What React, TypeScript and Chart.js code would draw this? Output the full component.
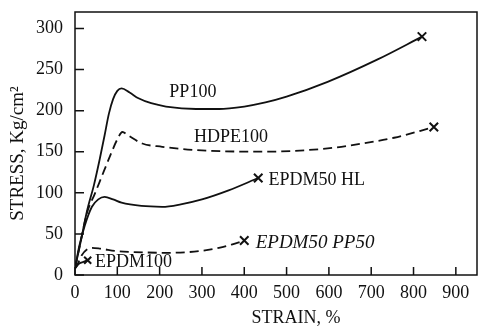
import React, { useEffect, useRef } from 'react';
import { Chart, registerables } from 'chart.js';

Chart.register(...registerables);

// ---- tick labels ----
const xTickValues = [0, 100, 200, 300, 400, 500, 600, 700, 800, 900];
const yTickValues = [0, 50, 100, 150, 200, 250, 300];

// ---- series (strain %, stress Kg/cm2) ----
const pp100Strain = [0, 14, 28, 45, 58, 70, 80, 90, 100, 110, 129, 150, 180, 215, 286, 340, 400, 450, 500, 597, 714, 820];
const pp100Stress = [8, 42, 77, 110, 140, 170, 196, 214, 224, 227, 222, 215, 209, 205, 202, 202, 205, 210, 217, 235, 262, 290];

const hdpe100Strain = [0, 14, 28, 47, 68, 87, 100, 112, 125, 159, 206, 286, 441, 597, 680, 754, 848];
const hdpe100Stress = [8, 42, 75, 99, 126, 150, 165, 174, 170, 160, 156, 152, 150, 154, 160, 167, 180];

const epdmHlStrain = [0, 10, 23, 40, 55, 70, 90, 110, 157, 206, 250, 300, 363, 433];
const epdmHlStress = [8, 35, 60, 83, 92, 95, 92, 88, 84, 83, 86, 92, 103, 118];

const epdmPpStrain = [0, 5, 16, 28, 40, 60, 100, 136, 215, 293, 340, 370, 400];
const epdmPpStress = [8, 12, 24, 31, 33, 32, 29, 28, 27, 29, 33, 37, 42];

const epdm100Strain = [0, 10, 20, 30];
const epdm100Stress = [8, 14, 16, 18];

// ---- curve labels (text, anchor in data units) ----
const labelTexts = ['PP100', 'HDPE100', 'EPDM50 HL', 'EPDM50 PP50', 'EPDM100'];
const labelStrain = [223, 281, 457, 427, 47];
const labelStress = [222, 168, 115, 39, 15];
const labelItalic = [false, false, false, true, false];

const xTitle = 'STRAIN, %';
const yTitle = 'STRESS, Kg/cm²';

const FONT = '"Liberation Serif", "Times New Roman", serif';

const toPoints = (xs: number[], ys: number[]) => xs.map((x, i) => ({ x, y: ys[i] }));

const makeDataset = (label: string, xs: number[], ys: number[], dashed: boolean) => ({
  label,
  data: toPoints(xs, ys),
  borderColor: '#111',
  backgroundColor: '#111',
  borderWidth: 1.8,
  borderDash: dashed ? [9, 5] : [],
  fill: false,
  showLine: true,
  cubicInterpolationMode: 'monotone' as const,
  pointStyle: 'crossRot' as const,
  pointRadius: (ctx: any) => (ctx.dataIndex === xs.length - 1 ? (label === 'EPDM100' ? 5 : 6) : 0),
  pointBorderWidth: 2,
  pointBorderColor: '#111',
  pointHoverRadius: 0,
});

const decorPlugin = {
  id: 'decor',
  afterDraw(chart: any) {
    const { ctx, chartArea: a, scales } = chart;
    ctx.save();
    ctx.strokeStyle = '#111';
    ctx.lineWidth = 1.5;
    ctx.setLineDash([]);
    ctx.strokeRect(a.left, a.top, a.right - a.left, a.bottom - a.top);
    // inward ticks
    ctx.beginPath();
    scales.x.ticks.forEach((t: any) => {
      const px = scales.x.getPixelForValue(t.value);
      ctx.moveTo(px, a.bottom);
      ctx.lineTo(px, a.bottom - 8);
    });
    scales.y.ticks.forEach((t: any) => {
      const py = scales.y.getPixelForValue(t.value);
      ctx.moveTo(a.left, py);
      ctx.lineTo(a.left + 9, py);
    });
    ctx.stroke();
    // curve labels
    ctx.fillStyle = '#111';
    ctx.textBaseline = 'middle';
    ctx.textAlign = 'left';
    labelTexts.forEach((txt, i) => {
      ctx.font = (labelItalic[i] ? 'italic 19px ' : '18px ') + FONT;
      ctx.fillText(txt, scales.x.getPixelForValue(labelStrain[i]), scales.y.getPixelForValue(labelStress[i]));
    });
    // axis titles
    ctx.font = '18px ' + FONT;
    ctx.textAlign = 'center';
    ctx.fillText(xTitle, (a.left + a.right) / 2 + 20, 318);
    ctx.font = '19px ' + FONT;
    ctx.translate(18, (a.top + a.bottom) / 2 + 10);
    ctx.rotate(-Math.PI / 2);
    ctx.fillText(yTitle, 0, 0);
    ctx.restore();
  },
};

export default function App() {
  const canvasRef = useRef<HTMLCanvasElement | null>(null);

  useEffect(() => {
    if (!canvasRef.current) return;
    const chart = new Chart(canvasRef.current, {
      type: 'scatter',
      data: {
        datasets: [
          makeDataset('PP100', pp100Strain, pp100Stress, false),
          makeDataset('HDPE100', hdpe100Strain, hdpe100Stress, true),
          makeDataset('EPDM50 HL', epdmHlStrain, epdmHlStress, false),
          makeDataset('EPDM50 PP50', epdmPpStrain, epdmPpStress, true),
          makeDataset('EPDM100', epdm100Strain, epdm100Stress, false),
        ],
      },
      options: {
        responsive: false,
        animation: false,
        layout: { padding: { top: 12, right: 5, left: 0, bottom: 0 } },
        plugins: { legend: { display: false }, tooltip: { enabled: false } },
        scales: {
          x: {
            type: 'linear',
            min: 0,
            max: 950,
            afterBuildTicks: (s: any) => {
              s.ticks = xTickValues.map((v) => ({ value: v }));
            },
            afterFit: (s: any) => {
              s.height = 57;
              s.paddingLeft = 0;
              s.paddingRight = 0;
            },
            grid: { display: false, drawTicks: false },
            border: { display: false },
            ticks: { color: '#111', font: { family: FONT, size: 18 }, padding: 7, maxRotation: 0, autoSkip: false },
          },
          y: {
            type: 'linear',
            min: 0,
            max: 320,
            afterBuildTicks: (s: any) => {
              s.ticks = yTickValues.map((v) => ({ value: v }));
            },
            afterFit: (s: any) => {
              s.width = 75;
              s.paddingTop = 0;
              s.paddingBottom = 0;
            },
            grid: { display: false, drawTicks: false },
            border: { display: false },
            ticks: { color: '#111', font: { family: FONT, size: 18 }, padding: 12, autoSkip: false },
          },
        },
      },
      plugins: [decorPlugin],
    });
    return () => chart.destroy();
  }, []);

  return (
    <div style={{ position: 'fixed', left: 0, top: 0, width: 485, height: 332, background: '#fff' }}>
      <canvas ref={canvasRef} width={485} height={332} style={{ display: 'block' }} />
    </div>
  );
}
